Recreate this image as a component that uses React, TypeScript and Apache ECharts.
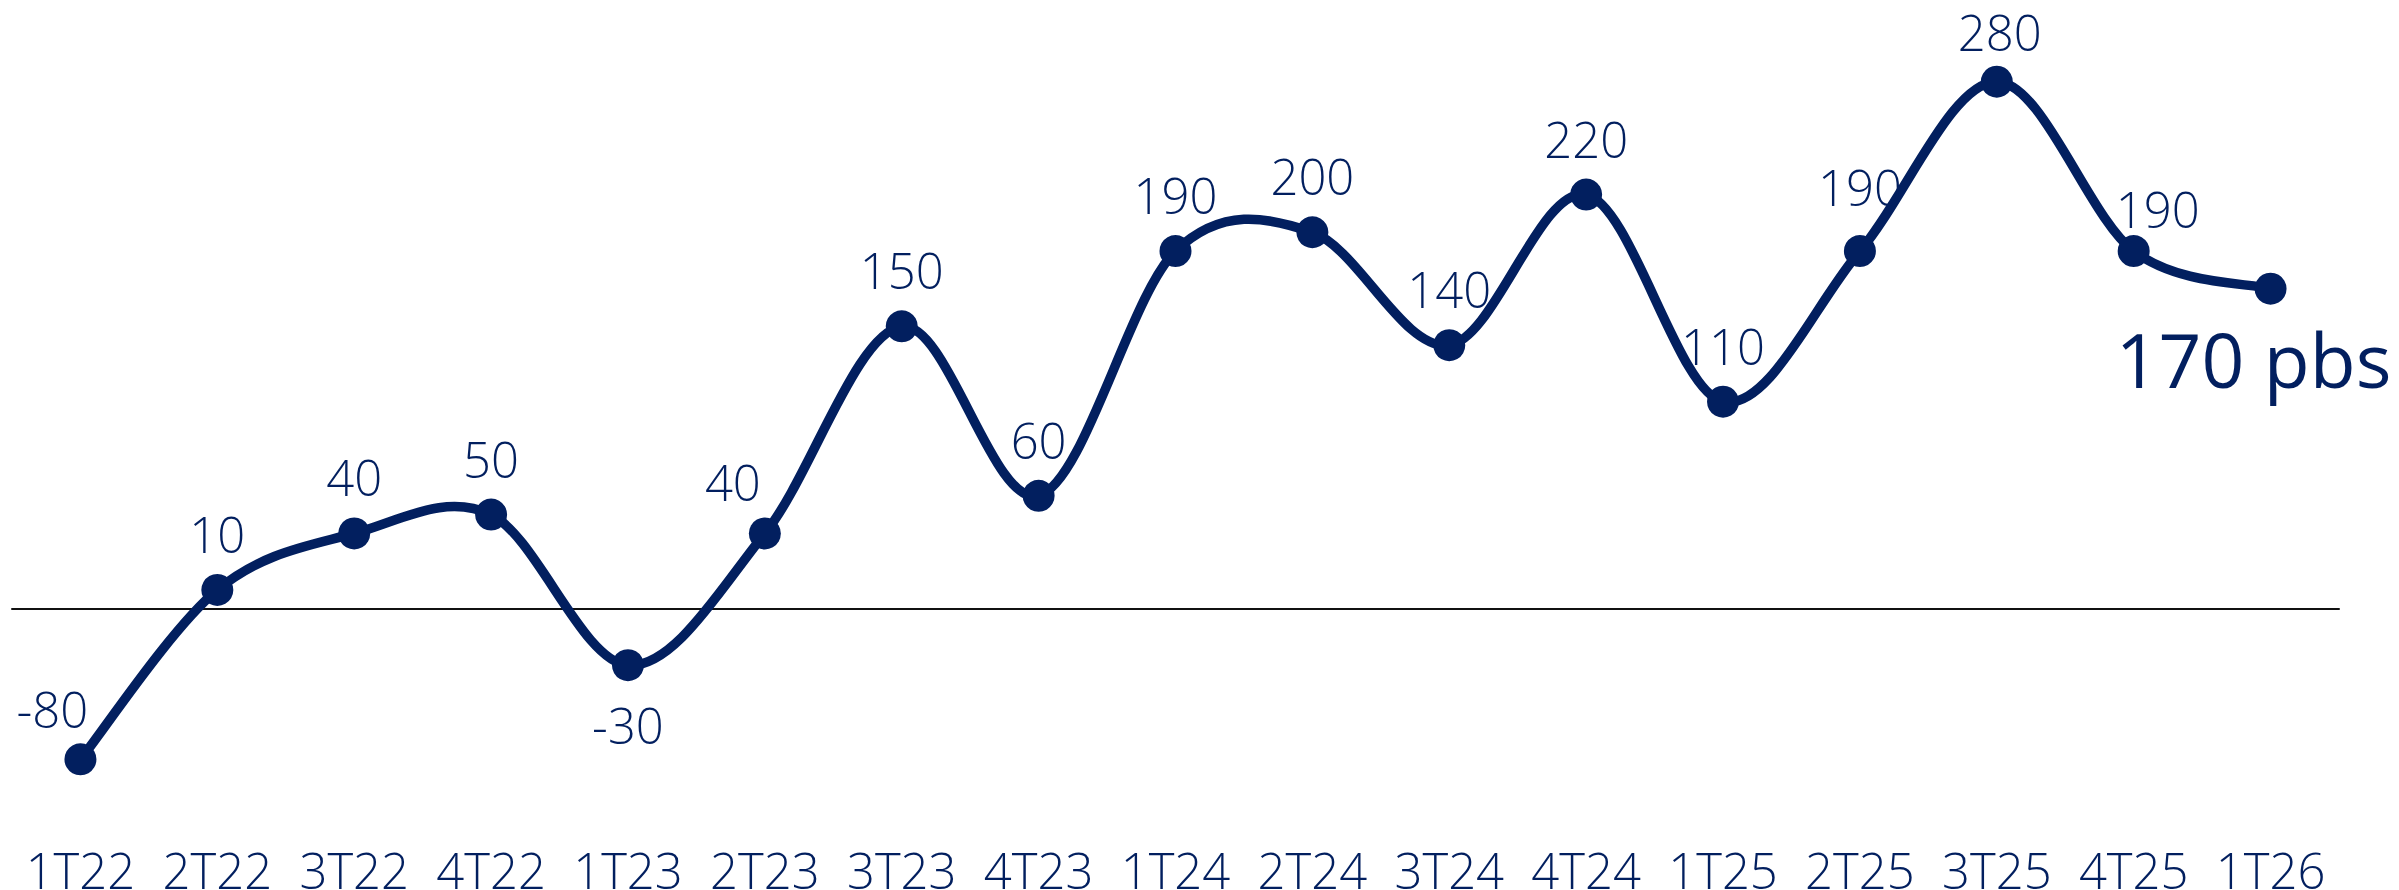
import React, { useEffect, useRef } from "react";
import * as echarts from "echarts";

const categories = [
  "1T22", "2T22", "3T22", "4T22",
  "1T23", "2T23", "3T23", "4T23",
  "1T24", "2T24", "3T24", "4T24",
  "1T25", "2T25", "3T25", "4T25",
  "1T26",
];
const values = [-80, 10, 40, 50, -30, 40, 150, 60, 190, 200, 140, 220, 110, 190, 280, 190, 170];
const lastLabelText = "170 pbs";

const NAVY = "#021f5f";
const LABEL_FONT = "'Open Sans', 'Liberation Sans', sans-serif";

// label offsets (relative to the marker centre) for points whose label sits differently
const labelOffsets: Record<number, [number, number]> = {
  0: [-28, -50],
  4: [0, 60],
  5: [-32, -51],
  13: [0, -64],
  14: [3, -50],
  15: [24, -42],
};

export default function App() {
  const ref = useRef<HTMLDivElement>(null);

  useEffect(() => {
    if (!ref.current) return;
    const chart = echarts.init(ref.current, undefined, { renderer: "svg" });
    const last = values.length - 1;
    const data = values.map((v, i) => {
      if (i === last) {
        return {
          value: v,
          label: {
            formatter: lastLabelText,
            fontSize: 75,
            fontWeight: "normal",
            fontFamily: "'Open Sans', sans-serif",
            offset: [-17, 70],
          },
        };
      }
      return {
        value: v,
        label: { offset: labelOffsets[i] || [0, -56] },
      };
    });

    const renderCurve = (params: any, api: any) => {
      if (params.dataIndex !== 0) return null;
      const pts = values.map((v, i) => api.coord([i, v]));
      const n = pts.length;
      let d = `M${pts[0][0]},${pts[0][1]}`;
      for (let i = 0; i < n - 1; i++) {
        const p0 = pts[i - 1] || pts[i];
        const p1 = pts[i];
        const p2 = pts[i + 1];
        const p3 = pts[i + 2] || pts[i + 1];
        const c1x = p1[0] + (p2[0] - p0[0]) / 6;
        const c1y = p1[1] + (p2[1] - p0[1]) / 6;
        const c2x = p2[0] - (p3[0] - p1[0]) / 6;
        const c2y = p2[1] - (p3[1] - p1[1]) / 6;
        d += ` C${c1x},${c1y} ${c2x},${c2y} ${p2[0]},${p2[1]}`;
      }
      return {
        type: "path",
        shape: { pathData: d },
        style: {
          fill: "none",
          stroke: NAVY,
          lineWidth: 9.5,
          lineJoin: "round",
          lineCap: "round",
        },
        silent: true,
      };
    };

    chart.setOption({
      animation: false,
      backgroundColor: "#ffffff",
      grid: {
        left: 12,
        right: 60,
        top: 44,
        bottom: 93,
        containLabel: false,
        outerBoundsMode: "none",
      },
      xAxis: [
        {
          type: "category",
          data: categories,
          boundaryGap: true,
          axisLine: { show: true, onZero: true, lineStyle: { color: "#111111", width: 2 } },
          axisTick: { show: false },
          axisLabel: { show: false },
        },
        {
          type: "category",
          data: categories,
          position: "bottom",
          boundaryGap: true,
          axisLine: { show: false, onZero: false },
          axisTick: { show: false },
          axisLabel: {
            show: true,
            interval: 0,
            hideOverlap: false,
            margin: 54,
            color: NAVY,
            fontSize: 49,
            lineHeight: 38,
            fontWeight: 300,
            fontFamily: LABEL_FONT,
          },
        },
      ],
      yAxis: {
        type: "value",
        min: -100,
        max: 300,
        show: false,
        splitLine: { show: false },
      },
      series: [
        {
          type: "custom",
          xAxisIndex: 0,
          data: values.map((v, i) => [i, v]),
          encode: { x: 0, y: 1 },
          renderItem: renderCurve,
          z: 1,
          silent: true,
        },
        {
          type: "line",
          xAxisIndex: 0,
          data,
          symbol: "circle",
          symbolSize: 32,
          color: NAVY,
          itemStyle: { color: NAVY },
          lineStyle: { color: NAVY, width: 0, opacity: 0 },
          z: 2,
          label: {
            show: true,
            position: "inside",
            color: NAVY,
            fontSize: 49,
            fontWeight: 300,
            fontFamily: LABEL_FONT,
          },
        },
      ],
    });
    return () => chart.dispose();
  }, []);

  return (
    <div
      ref={ref}
      style={{ position: "fixed", left: 0, top: 0, width: 2399, height: 890, background: "#fff" }}
    />
  );
}
